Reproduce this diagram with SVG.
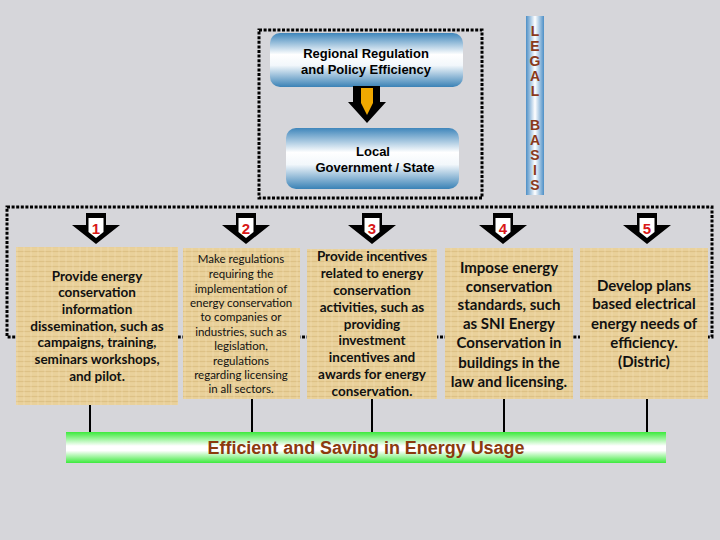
<svg xmlns="http://www.w3.org/2000/svg" xmlns:xlink="http://www.w3.org/1999/xlink" width="720" height="540" viewBox="0 0 720 540">
<defs>
<linearGradient id="blueV" x1="0" y1="0" x2="0" y2="1">
<stop offset="0" stop-color="#3f86bb"/>
<stop offset="0.4" stop-color="#ffffff"/>
<stop offset="0.6" stop-color="#f2f7fb"/>
<stop offset="1" stop-color="#3a82b6"/>
</linearGradient>
<linearGradient id="blueH" x1="0" y1="0" x2="1" y2="0">
<stop offset="0" stop-color="#4d8fc6"/>
<stop offset="0.5" stop-color="#ffffff"/>
<stop offset="1" stop-color="#4d8fc6"/>
</linearGradient>
<linearGradient id="greenV" x1="0" y1="0" x2="0" y2="1">
<stop offset="0" stop-color="#3cea3c"/>
<stop offset="0.45" stop-color="#ffffff"/>
<stop offset="0.6" stop-color="#ffffff"/>
<stop offset="1" stop-color="#3cea3c"/>
</linearGradient>
<pattern id="papyrus" width="7" height="5" patternUnits="userSpaceOnUse">
<rect width="7" height="5" fill="#e8cf98"/>
<path d="M0 1.5H7" stroke="#d2b173" stroke-width="0.8" opacity="0.6"/>
<path d="M3 0V5" stroke="#f2e1b6" stroke-width="0.8" opacity="0.6"/>
<path d="M0 4H7" stroke="#efdcae" stroke-width="0.6" opacity="0.5"/>
</pattern>
<g id="numArrow">
<polygon points="-10,213 10,213 10,225 24,225 0,244 -24,225 -10,225" fill="#000"/>
<polygon points="-7.5,218 7.5,218 7.5,232 0,238 -7.5,232" fill="#fff"/>
</g>
<style>
.dot{fill:none;stroke:#000;stroke-width:3;stroke-dasharray:3 1.6}
.bt{font-family:"Liberation Sans",Arial,sans-serif;font-size:13px;font-weight:bold;fill:#000;text-anchor:middle}
.lg{font-family:"Liberation Sans",Arial,sans-serif;font-size:14px;font-weight:bold;fill:#8b3a1a;text-anchor:middle}
.box{fill:url(#papyrus)}
.tx{font-family:Lato,"Open Sans",sans-serif;fill:#111;text-anchor:middle;font-weight:bold}
.num{font-family:"Liberation Sans",Arial,sans-serif;font-size:15px;font-weight:bold;fill:#d81818;text-anchor:middle}
.ln{stroke:#000;stroke-width:2}
</style>
</defs>
<rect width="720" height="540" fill="#d6d6da"/>

<g id="frames">
<rect class="dot" x="259" y="30" width="223" height="168"/>
<rect class="dot" x="7" y="207" width="705" height="130"/>
</g>

<g id="regional">
<rect x="270" y="33" width="193" height="54" rx="10" fill="url(#blueV)"/>
<text class="bt" x="366" y="58">Regional Regulation</text>
<text class="bt" x="366" y="74">and Policy Efficiency</text>
</g>

<g id="local">
<rect x="286" y="128" width="173" height="61" rx="10" fill="url(#blueV)"/>
<text class="bt" x="373" y="156">Local</text>
<text class="bt" x="375" y="172">Government / State</text>
</g>

<g id="legal">
<rect x="526" y="16" width="18" height="179" fill="url(#blueH)"/>
<text class="lg" x="535" y="36">L</text>
<text class="lg" x="535" y="51">E</text>
<text class="lg" x="535" y="66">G</text>
<text class="lg" x="535" y="81">A</text>
<text class="lg" x="535" y="96">L</text>
<text class="lg" x="535" y="130">B</text>
<text class="lg" x="535" y="145">A</text>
<text class="lg" x="535" y="160">S</text>
<text class="lg" x="535" y="175">I</text>
<text class="lg" x="535" y="190">S</text>
</g>

<g id="connectors">
<polygon points="353,86 380,86 380,102 386,102 367,123 348,102 353,102" fill="#000"/>
<polygon points="361,88 373,88 373,103 367,115 361,103" fill="#f0a800"/>
<line class="ln" x1="90" y1="405" x2="90" y2="432"/>
<line class="ln" x1="252" y1="399" x2="252" y2="432"/>
<line class="ln" x1="372" y1="399" x2="372" y2="432"/>
<line class="ln" x1="504" y1="399" x2="504" y2="432"/>
<line class="ln" x1="647" y1="399" x2="647" y2="432"/>
</g>

<g id="arrows">
<use xlink:href="#numArrow" x="96"/><text class="num" x="96" y="234">1</text>
<use xlink:href="#numArrow" x="246"/><text class="num" x="246" y="234">2</text>
<use xlink:href="#numArrow" x="372"/><text class="num" x="372" y="234">3</text>
<use xlink:href="#numArrow" x="503"/><text class="num" x="503" y="234">4</text>
<use xlink:href="#numArrow" x="647"/><text class="num" x="647" y="234">5</text>
</g>

<g id="box1">
<rect class="box" x="16" y="247" width="162" height="158"/>
<g class="tx" font-size="13.5">
<text x="97" y="281">Provide energy</text>
<text x="97" y="297">conservation</text>
<text x="97" y="314">information</text>
<text x="97" y="331">dissemination, such as</text>
<text x="97" y="347">campaigns, training,</text>
<text x="97" y="364">seminars workshops,</text>
<text x="97" y="381">and pilot.</text>
</g>
</g>

<g id="box2">
<rect class="box" x="183" y="248" width="117" height="151"/>
<g class="tx" font-size="11.5" style="font-weight:normal">
<text x="241" y="263">Make regulations</text>
<text x="241" y="278">requiring the</text>
<text x="241" y="293">implementation of</text>
<text x="241" y="307">energy conservation</text>
<text x="241" y="321">to companies or</text>
<text x="241" y="336">industries, such as</text>
<text x="241" y="350">legislation,</text>
<text x="241" y="365">regulations</text>
<text x="241" y="379">regarding licensing</text>
<text x="241" y="393">in all sectors.</text>
</g>
</g>

<g id="box3">
<rect class="box" x="307" y="249" width="130" height="150"/>
<g class="tx" font-size="13.5">
<text x="372" y="261">Provide incentives</text>
<text x="372" y="278">related to energy</text>
<text x="372" y="295">conservation</text>
<text x="372" y="312">activities, such as</text>
<text x="372" y="329">providing</text>
<text x="372" y="345">investment</text>
<text x="372" y="362">incentives and</text>
<text x="372" y="379">awards for energy</text>
<text x="372" y="396">conservation.</text>
</g>
</g>

<g id="box4">
<rect class="box" x="445" y="248" width="128" height="151"/>
<g class="tx" font-size="15">
<text x="509" y="273">Impose energy</text>
<text x="509" y="292">conservation</text>
<text x="509" y="310">standards, such</text>
<text x="509" y="329">as SNI Energy</text>
<text x="509" y="348">Conservation in</text>
<text x="509" y="368">buildings in the</text>
<text x="509" y="387">law and licensing.</text>
</g>
</g>

<g id="box5">
<rect class="box" x="580" y="248" width="128" height="151"/>
<g class="tx" font-size="15">
<text x="644" y="291">Develop plans</text>
<text x="644" y="309">based electrical</text>
<text x="644" y="329">energy needs of</text>
<text x="644" y="348">efficiency.</text>
<text x="644" y="367">(Distric)</text>
</g>
</g>

<g id="result">
<rect x="66" y="432" width="600" height="31" fill="url(#greenV)"/>
<text x="366" y="454" font-family="'Liberation Sans',Arial,sans-serif" font-size="17.5" font-weight="bold" fill="#8b3a0e" text-anchor="middle" textLength="317" lengthAdjust="spacingAndGlyphs">Efficient and Saving in Energy Usage</text>
</g>
</svg>
